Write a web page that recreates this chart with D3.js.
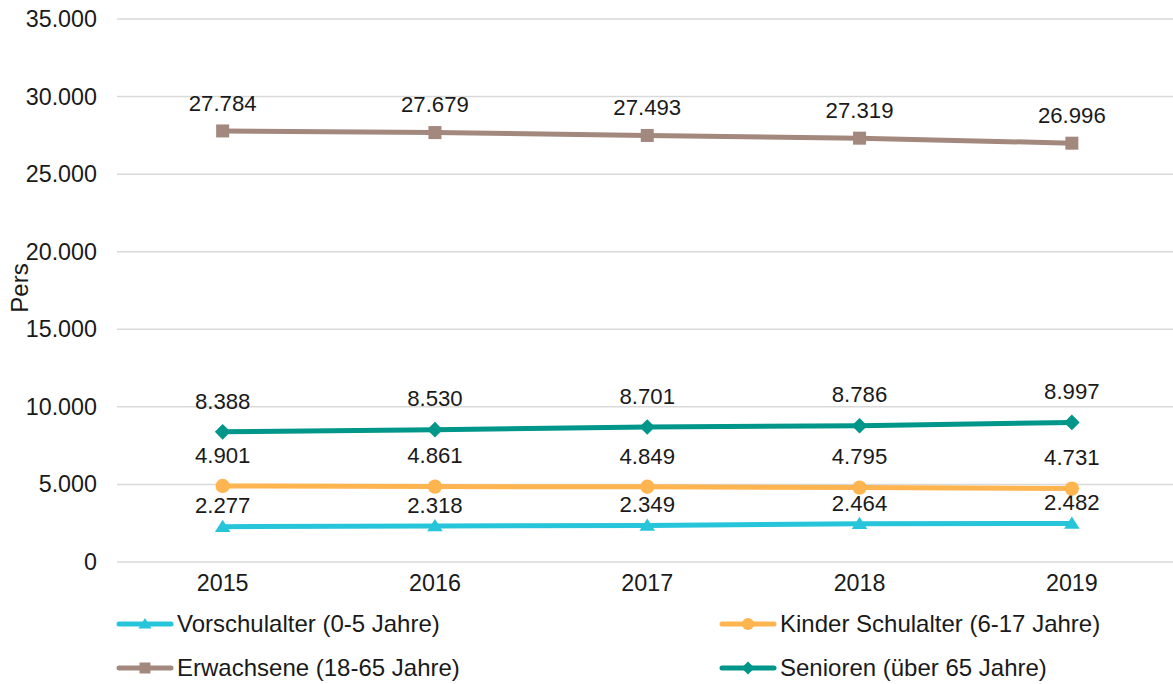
<!DOCTYPE html>
<html>
<head>
<meta charset="utf-8">
<script src="https://cdn.jsdelivr.net/npm/d3@7"></script>
<style>
  html, body { margin: 0; padding: 0; background: #fff; }
  svg { display: block; font-family: "Liberation Sans", Arial, sans-serif; }
</style>
</head>
<body>
<svg id="chart" width="1173" height="684"></svg>
<script>
// Population by age group, 2015–2019
const years = ["2015", "2016", "2017", "2018", "2019"];
const vorschulalter = [2277, 2318, 2349, 2464, 2482];
const kinderSchulalter = [4901, 4861, 4849, 4795, 4731];
const erwachsene = [27784, 27679, 27493, 27319, 26996];
const senioren = [8388, 8530, 8701, 8786, 8997];
const yTicks = [0, 5000, 10000, 15000, 20000, 25000, 30000, 35000];
const yTitle = "Pers";

const series = [
  { name: "Vorschulalter (0-5 Jahre)", values: vorschulalter, color: "#27C5DA", marker: "triangle", labelOffset: 21 },
  { name: "Kinder Schulalter (6-17 Jahre)", values: kinderSchulalter, color: "#FFB54F", marker: "circle", labelOffset: 31 },
  { name: "Erwachsene (18-65 Jahre)", values: erwachsene, color: "#A3887E", marker: "square", labelOffset: 28 },
  { name: "Senioren (über 65 Jahre)", values: senioren, color: "#00968A", marker: "diamond", labelOffset: 31 }
];

const fmt = d3.formatLocale({ decimal: ",", thousands: ".", grouping: [3], currency: ["", "€"] }).format(",d");

const svg = d3.select("#chart");
const W = 1173;

const x = d3.scaleBand().domain(years).range([116.5, 1178]);
const y = d3.scaleLinear().domain([0, 35000]).range([562, 19]);
const cx = d => x(d) + x.bandwidth() / 2;

// Gridlines
svg.append("g")
  .selectAll("line")
  .data(yTicks)
  .join("line")
  .attr("x1", 117).attr("x2", W)
  .attr("y1", d => y(d)).attr("y2", d => y(d))
  .attr("stroke", "#d9d9d9").attr("stroke-width", 1.5);

// Y axis labels
const yAxis = svg.append("g")
  .attr("transform", "translate(97,0)")
  .call(d3.axisLeft(y).tickValues(yTicks).tickFormat(d => fmt(d)).tickSize(0).tickPadding(0));
yAxis.select(".domain").remove();
yAxis.selectAll("text")
  .attr("font-size", 23.3).attr("fill", "#1a1a1a")
  .attr("font-family", "Liberation Sans, Arial, sans-serif");

// X axis labels
const xAxis = svg.append("g")
  .attr("transform", "translate(0,574)")
  .call(d3.axisBottom(x).tickSize(0).tickPadding(0));
xAxis.select(".domain").remove();
xAxis.selectAll("text")
  .attr("font-size", 23.3).attr("fill", "#1a1a1a").attr("dy", "0.71em")
  .attr("font-family", "Liberation Sans, Arial, sans-serif");

// Y title
svg.append("text")
  .attr("transform", "translate(28,288) rotate(-90)")
  .attr("text-anchor", "middle")
  .attr("font-size", 24).attr("fill", "#1a1a1a")
  .text(yTitle);

function drawMarker(g, type, color, size) {
  const s = size;
  if (type === "circle") {
    g.append("circle").attr("r", s * 0.55).attr("fill", color);
  } else if (type === "square") {
    g.append("rect").attr("x", -s / 2).attr("y", -s / 2).attr("width", s).attr("height", s).attr("fill", color);
  } else if (type === "triangle") {
    const h = s * 0.9;
    g.append("path").attr("d", `M0,${-h * 0.6} L${s * 0.6},${h * 0.45} L${-s * 0.6},${h * 0.45} Z`).attr("fill", color);
  } else if (type === "diamond") {
    g.append("path").attr("d", `M0,${-s * 0.6} L${s * 0.6},0 L0,${s * 0.6} L${-s * 0.6},0 Z`).attr("fill", color);
  }
}

const line = d3.line().x((d, i) => cx(years[i])).y(d => y(d));

// Lines, markers, labels
series.forEach(s => {
  const g = svg.append("g");
  g.append("path")
    .attr("d", line(s.values))
    .attr("fill", "none")
    .attr("stroke", s.color)
    .attr("stroke-width", 5)
    .attr("stroke-linecap", "round")
    .attr("stroke-linejoin", "round");
  s.values.forEach((v, i) => {
    const m = g.append("g").attr("transform", `translate(${cx(years[i])},${y(v)})`);
    drawMarker(m, s.marker, s.color, 13);
  });
  g.selectAll("text.lbl")
    .data(s.values)
    .join("text")
    .attr("class", "lbl")
    .attr("x", (d, i) => cx(years[i]))
    .attr("y", d => y(d) - s.labelOffset)
    .attr("dy", "0.35em")
    .attr("text-anchor", "middle")
    .attr("font-size", 22.2)
    .attr("fill", "#1a1a1a")
    .text(d => fmt(d));
});

// Legend
const legendPos = [
  { x: 117, y: 624 }, { x: 720, y: 624 },
  { x: 117, y: 668 }, { x: 720, y: 668 }
];
series.forEach((s, i) => {
  const p = legendPos[i];
  const g = svg.append("g").attr("transform", `translate(${p.x},${p.y})`);
  g.append("line").attr("x1", 2).attr("x2", 54).attr("y1", 0).attr("y2", 0)
    .attr("stroke", s.color).attr("stroke-width", 5).attr("stroke-linecap", "round");
  const m = g.append("g").attr("transform", "translate(28,0)");
  drawMarker(m, s.marker, s.color, 11);
  g.append("text").attr("x", 60).attr("y", 0).attr("dy", "0.35em")
    .attr("font-size", 24).attr("fill", "#1a1a1a").text(s.name);
});
</script>
</body>
</html>
